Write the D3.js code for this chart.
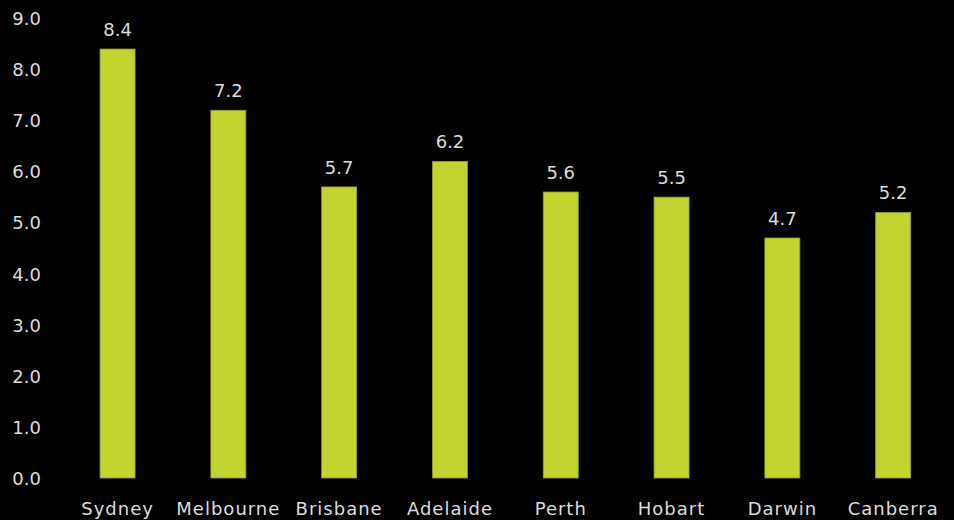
<!DOCTYPE html>
<html>
<head>
<meta charset="utf-8">
<script src="https://cdn.jsdelivr.net/npm/d3@7"></script>
<style>
  html, body { margin: 0; padding: 0; background: #000; }
  svg text { font-family: "DejaVu Sans", sans-serif; fill: #dcdcdc; }
</style>
</head>
<body>
<div id="chart"></div>
<script>
const cities = ['Sydney', 'Melbourne', 'Brisbane', 'Adelaide', 'Perth', 'Hobart', 'Darwin', 'Canberra'];
const values = [8.4, 7.2, 5.7, 6.2, 5.6, 5.5, 4.7, 5.2];
const yTicks = [0, 1, 2, 3, 4, 5, 6, 7, 8, 9];

const width = 954;
const height = 520;

const svg = d3.select('#chart')
  .append('svg')
  .attr('width', width)
  .attr('height', height)
  .style('background', '#000');

const x = d3.scaleBand()
  .domain(cities)
  .range([66.8, 943.9])
  .paddingInner(0.684)
  .paddingOuter(0.3);

const y = d3.scaleLinear()
  .domain([0, 9])
  .range([478, 18.4]);

// bars
svg.append('g')
  .selectAll('rect')
  .data(cities)
  .join('rect')
    .attr('x', d => x(d))
    .attr('y', (d, i) => y(values[i]))
    .attr('width', x.bandwidth())
    .attr('height', (d, i) => y(0) - y(values[i]))
    .attr('fill', '#c2d430')
    .attr('stroke', '#8f9c2a')
    .attr('stroke-width', 0.8);

// value labels
svg.append('g')
  .selectAll('text')
  .data(cities)
  .join('text')
    .attr('x', d => x(d) + x.bandwidth() / 2)
    .attr('y', (d, i) => y(values[i]) - 13)
    .attr('text-anchor', 'middle')
    .attr('font-size', '18px')
    .text((d, i) => values[i].toFixed(1));

// y axis
const yAxis = svg.append('g')
  .attr('transform', 'translate(41,0)')
  .call(d3.axisLeft(y).tickValues(yTicks).tickFormat(d3.format('.1f')).tickSize(0).tickPadding(0));
yAxis.select('.domain').remove();
yAxis.selectAll('text')
  .attr('font-size', '18px')
  .attr('fill', null)
  .attr('dy', '0.35em');

// x axis
const xAxis = svg.append('g')
  .attr('transform', 'translate(0,478)')
  .call(d3.axisBottom(x).tickSize(0).tickPadding(0));
xAxis.select('.domain').remove();
xAxis.selectAll('text')
  .attr('font-size', '18px')
  .attr('fill', null)
  .attr('y', 37)
  .attr('dy', 0)
  .style('letter-spacing', '1px');
</script>
</body>
</html>
